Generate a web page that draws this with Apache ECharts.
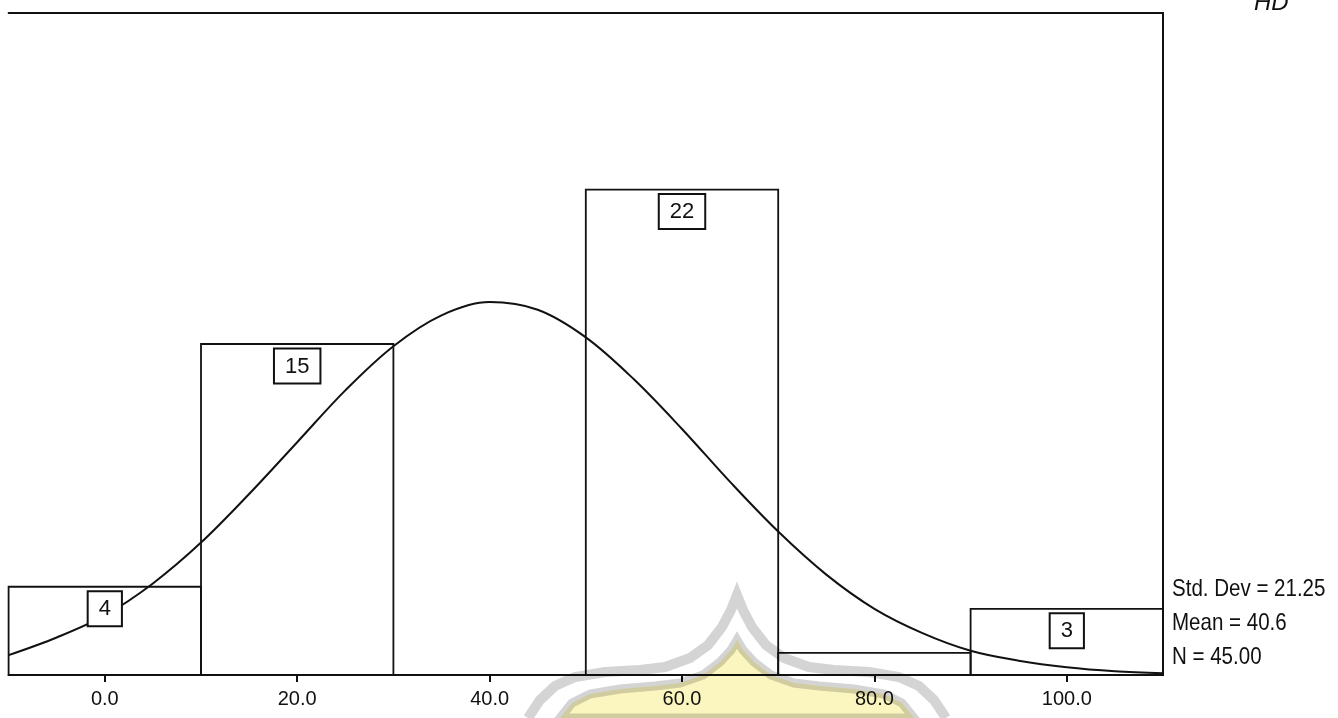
<!DOCTYPE html>
<html>
<head>
<meta charset="utf-8">
<title>Histogram</title>
<script src="https://cdn.jsdelivr.net/npm/echarts@6/dist/echarts.min.js"></script>
<style>
  html, body { margin: 0; padding: 0; background: #fff; }
  #chart { width: 1338px; height: 718px; }
</style>
</head>
<body>
<div id="chart"></div>
<script>
// Histogram bins (lower and upper edges) and their frequencies
const binLow = [-10, 10, 30, 50, 70, 90];
const binHigh = [10, 30, 50, 70, 90, 110];
const counts = [4, 15, 0, 22, 1, 3];
// Bins whose frequency is printed in a box
const boxed = [true, true, false, true, false, true];

// Fitted normal curve, sampled every 5 units
const curveX = [-10, -5, 0, 5, 10, 15, 20, 25, 30, 35, 40, 45, 50, 55, 60, 65, 70, 75, 80, 85, 90, 95, 100, 105, 110];
const curveY = [0.9, 1.7, 2.7, 4.15, 6.0, 8.2, 10.55, 12.9, 14.9, 16.3, 16.9, 16.55, 15.3, 13.4, 11.15, 8.75, 6.5, 4.55, 3.0, 1.9, 1.1, 0.65, 0.35, 0.17, 0.08];

// Axis ticks and labels
const tickValues = [0, 20, 40, 60, 80, 100];
const tickLabels = ['0.0', '20.0', '40.0', '60.0', '80.0', '100.0'];

// Summary statistics
const statLines = ['Std. Dev = 21.25', 'Mean = 40.6', 'N = 45.00'];

const FONT = '"Liberation Sans", Arial, Helvetica, sans-serif';

const barData = binLow.map((lo, i) => [lo, binHigh[i], counts[i], boxed[i] ? 1 : 0]);
const curveData = curveX.map((x, i) => [x, curveY[i]]);

const chart = echarts.init(document.getElementById('chart'), null, { renderer: 'canvas' });

// condensed statistics text block at the right of the frame
const statY = [589, 623, 657];
const statGraphics = statLines.map((t, i) => ({
  type: 'text',
  x: 1172, y: statY[i],
  scaleX: 0.855,
  z: 10,
  style: { text: t, font: '24px ' + FONT, fill: '#111', verticalAlign: 'middle', align: 'left' }
}));

// faint emblem over the lower middle of the page (symmetric about x = 737)
function mirrored(half) {
  const right = half.slice(0, -1).reverse().map(p => [1474 - p[0], p[1]]);
  return half.concat(right);
}
const emblemOuter = mirrored([[528, 718], [540, 700], [555, 686], [575, 677], [605, 672], [640, 670], [665, 667], [690, 658], [708, 645], [722, 627], [731, 610], [737, 595]]);
const emblemInner = mirrored([[560, 718], [572, 703], [590, 694], [620, 689], [655, 686], [680, 683], [703, 675], [720, 662], [731, 650], [737, 640]]);

chart.setOption({
  animation: false,
  backgroundColor: '#ffffff',
  grid: { left: 8.6, right: 175, top: 13, bottom: 43 },
  xAxis: [
    {
      type: 'value', min: -10, max: 110, position: 'bottom',
      axisLine: { show: true, onZero: false, lineStyle: { color: '#111', width: 2 } },
      axisTick: { show: true, customValues: tickValues, length: 7, inside: false, lineStyle: { color: '#111', width: 2 } },
      axisLabel: {
        customValues: tickValues,
        formatter: v => tickLabels[tickValues.indexOf(v)],
        color: '#111', fontSize: 20, fontFamily: FONT, margin: 14
      },
      splitLine: { show: false }
    },
    {
      type: 'value', min: -10, max: 110, position: 'top',
      axisLine: { show: true, onZero: false, lineStyle: { color: '#111', width: 2 } },
      axisTick: { show: false }, axisLabel: { show: false }, splitLine: { show: false }
    }
  ],
  yAxis: [
    {
      type: 'value', min: 0, max: 30, position: 'right',
      axisLine: { show: true, onZero: false, lineStyle: { color: '#111', width: 2 } },
      axisTick: { show: false }, axisLabel: { show: false }, splitLine: { show: false }
    }
  ],
  series: [
    {
      type: 'line',
      xAxisIndex: 0,
      yAxisIndex: 0,
      data: curveData,
      smooth: 0.35,
      showSymbol: false,
      lineStyle: { color: '#111', width: 2 },
      z: 2
    },
    {
      type: 'custom',
      xAxisIndex: 0,
      yAxisIndex: 0,
      data: barData,
      encode: { x: [0, 1], y: 2 },
      renderItem: function (params, api) {
        const lo = api.value(0), hi = api.value(1), n = api.value(2);
        if (n <= 0) return null;
        const p0 = api.coord([lo, 0]);
        const p1 = api.coord([hi, n]);
        const el = {
          type: 'rect',
          shape: { x: p0[0], y: p1[1], width: p1[0] - p0[0], height: p0[1] - p1[1] },
          style: { fill: 'none', stroke: '#111', lineWidth: 1.8 }
        };
        if (api.value(3)) {
          el.textContent = {
            style: {
              text: String(n),
              fill: '#111',
              font: '22px ' + FONT,
              backgroundColor: '#fff',
              borderColor: '#111',
              borderWidth: 2,
              padding: [6, 10, 5, 10]
            }
          };
          el.textConfig = { position: 'insideTop', distance: 8 };
        }
        return el;
      },
      z: 4
    }
  ],
  graphic: statGraphics.concat([
    {
      type: 'text', x: 1254, y: -9, z: 10,
      style: { text: 'HD', font: 'italic 24px ' + FONT, fill: '#111' }
    },
    {
      type: 'polygon', z: 20, silent: true,
      shape: { points: emblemInner },
      style: { fill: '#fbf6bf', stroke: '#d4d4d4', lineWidth: 9, blend: 'multiply' }
    },
    {
      type: 'polyline', z: 20, silent: true,
      shape: { points: emblemOuter },
      style: { fill: 'none', stroke: '#d4d4d4', lineWidth: 10, blend: 'multiply' }
    }
  ])
});
</script>
</body>
</html>
